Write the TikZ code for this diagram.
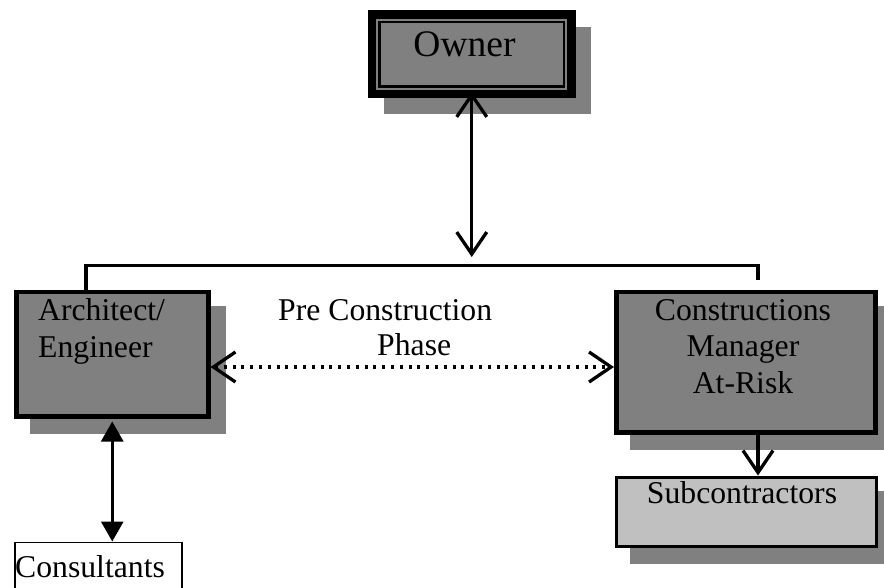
\documentclass[tikz,border=0pt]{standalone}
\usepackage{fontspec}
\setmainfont{Liberation Serif}
\usetikzlibrary{positioning, arrows.meta, shadows}

\definecolor{boxgray}{RGB}{128,128,128}
\definecolor{subgray}{RGB}{192,192,192}

\begin{document}
\begin{tikzpicture}[
    x=1pt, y=-1pt,
    % Party box style
    box/.style={
        rectangle,
        draw=black,
        line width=4.5pt,
        fill=boxgray,
        anchor=north west,
        inner sep=0pt,
        drop shadow={shadow xshift=16pt, shadow yshift=-16pt,
                     fill=boxgray, draw=boxgray, line width=4pt, opacity=1}
    },
    % Label style
    txt/.style={
        font=\fontsize{31.7}{36.5}\selectfont,
        inner sep=0pt,
        align=left
    },
    % Line styles
    link/.style={
        line width=3.3pt
    },
    arrow/.style={
        line width=3.3pt,
        >={Straight Barb[length=22pt, width=30pt]}
    },
    tri/.style={
        line width=2.8pt,
        >={Triangle[length=20pt, width=22pt]}
    }
]

\useasboundingbox (0,0) rectangle (884,588);

% === Owner ===
\node[box, minimum width=203pt, minimum height=83pt] (owner) at (368,10.5) {};
\draw[line width=3.5pt] ([shift={(6.5,6.5)}]owner.north west)
    rectangle ([shift={(-6.5,-6.5)}]owner.south east);
\draw[line width=2.2pt] ([shift={(11.5,11.5)}]owner.north west)
    rectangle ([shift={(-11.5,-11.5)}]owner.south east);
\node[txt, font=\fontsize{37.5}{40}\selectfont, anchor=base] (ownerlbl) at (464.5,57) {Owner};

% === Architect / Engineer ===
\node[box, minimum width=192pt, minimum height=124pt] (arch) at (14,290) {};
\node[txt, anchor=base west] (archlbl) at (38,357) {Architect/\\Engineer};

% === Construction Manager ===
\node[box, minimum width=259pt, minimum height=140pt] (cm) at (614,290) {};
\node[txt, align=center, anchor=base] (cmlbl) at (743,393) {Constructions\\Manager\\At-Risk};

% === Subcontractors ===
\node[box, fill=subgray, line width=3.3pt, minimum width=260pt, minimum height=69pt] (sub) at (614.5,475.5) {};
\node[txt, anchor=base] (sublbl) at (742,503) {Subcontractors};

% === Consultants ===
\node[rectangle, draw=black, line width=1.5pt, fill=white, anchor=north west,
      inner sep=0pt, minimum width=167pt, minimum height=70pt] (cons) at (14,541.5) {};
\node[txt, anchor=base west] (conslbl) at (15,577) {Consultants};

% === Phase label ===
\node[txt, font=\fontsize{31.7}{35}\selectfont, anchor=base west] (phaselbl)
    at (278,355) {Pre Construction\\\hspace*{99pt}Phase};

% === Connectors ===
\coordinate (busL) at (86,265.5);
\coordinate (busR) at (758,265.5);
\coordinate (cmtap) at (758,280);
\coordinate (phase) at (410,367);

\draw[link] (arch.north -| busL) -- (busL) -- (busR) -- (cmtap);
\draw[arrow, <->, shorten >=8.5pt] ([yshift=6pt]owner.south) -- (owner.south |- busL);
\draw[arrow, <->, dash pattern=on 3pt off 5.8pt] (arch.east |- phase) -- (cm.west |- phase);
\draw[arrow, ->] (cm.south -| busR) -- (sub.north -| busR);
\draw[tri, <->] ([yshift=-3pt]arch.south) -- (arch.south |- cons.north);

\end{tikzpicture}
\end{document}
